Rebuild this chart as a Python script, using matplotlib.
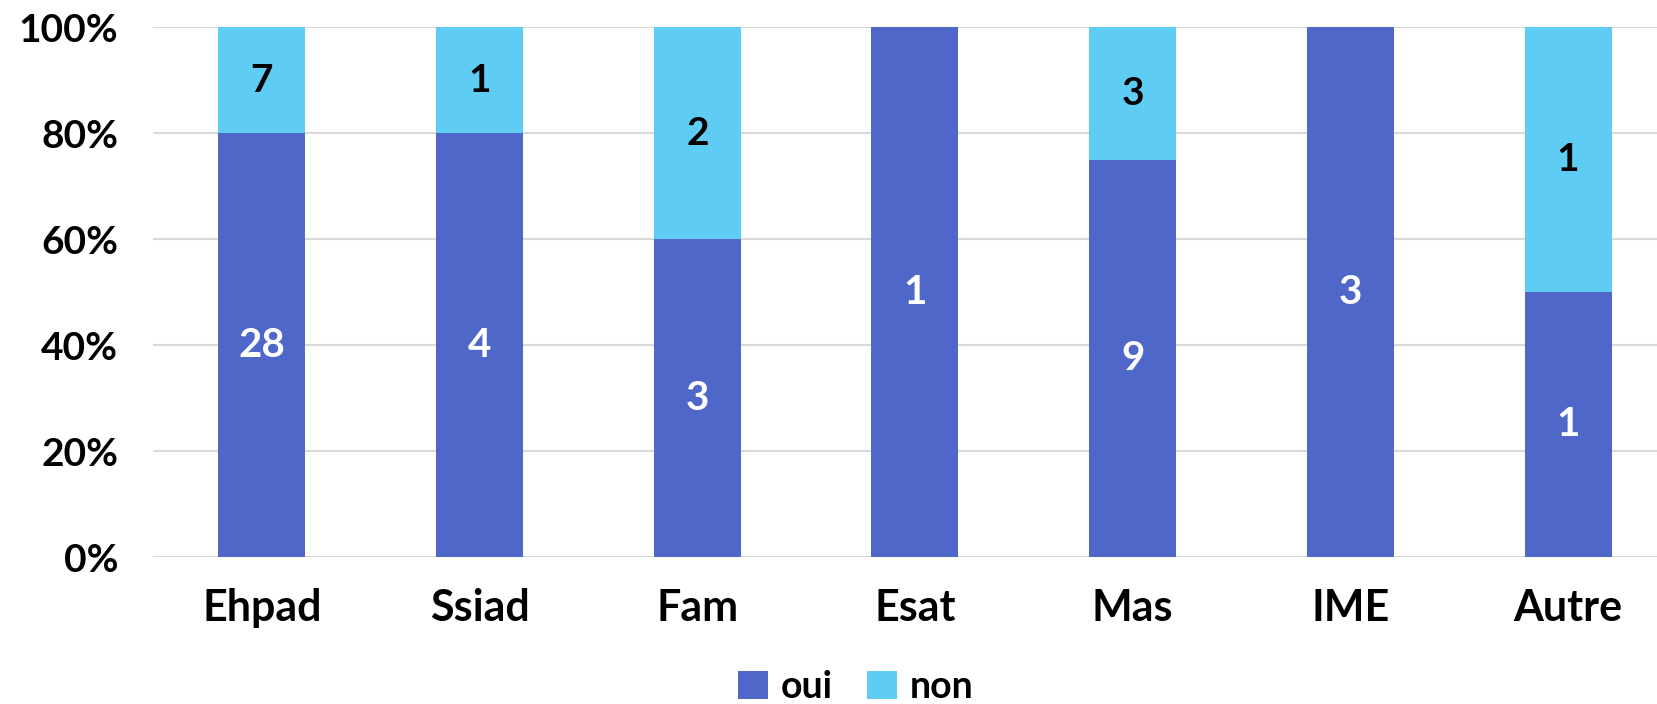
import matplotlib.pyplot as plt
import numpy as np

categories = ['Ehpad', 'Ssiad', 'Fam', 'Esat', 'Mas', 'IME', 'Autre']
oui = [28, 4, 3, 1, 9, 3, 1]
non = [7, 1, 2, 0, 3, 0, 1]

c_oui = '#4F67C8'
c_non = '#5ECCF3'

plt.rcParams['font.family'] = ['Lato', 'DejaVu Sans']
plt.rcParams['font.weight'] = 'bold'

fig = plt.figure(figsize=(16.57, 7.04), dpi=100)
ax = fig.add_axes([153 / 1657, 0.2088, 1 - 153 / 1657, 0.9616 - 0.2088])

x = np.arange(len(categories))
oui_a = np.array(oui, dtype=float)
non_a = np.array(non, dtype=float)
tot = oui_a + non_a
p_oui = oui_a / tot * 100
p_non = non_a / tot * 100

b1 = ax.bar(x, p_oui, width=0.4, color=c_oui, label='oui', zorder=2)
b2 = ax.bar(x, p_non, width=0.4, bottom=p_oui, color=c_non, label='non', zorder=2)

# labels inside bars
for i in range(len(categories)):
    if oui[i] > 0:
        ax.text(x[i], p_oui[i] / 2, str(oui[i]), ha='center', va='center',
                color='white', fontsize=29, fontweight='bold')
    if non[i] > 0:
        ax.text(x[i], p_oui[i] + p_non[i] / 2, str(non[i]), ha='center', va='center',
                color='black', fontsize=28, fontweight='bold')

ax.set_xlim(-0.5, -0.5 + (1657 - 153) / 217.7)
ax.set_ylim(0, 100)
ax.set_yticks([0, 20, 40, 60, 80, 100])
ax.set_yticklabels(['{}%'.format(v) for v in [0, 20, 40, 60, 80, 100]], fontsize=28, fontweight='bold')
ax.set_xticks(x)
ax.set_xticklabels(categories, fontsize=31, fontweight='bold')
ax.tick_params(axis='both', length=0)
ax.tick_params(axis='y', pad=25)
ax.tick_params(axis='x', pad=22)
ax.grid(axis='y', color='#D9D9D9', linewidth=1.5, zorder=0)
for s in ax.spines.values():
    s.set_visible(False)

fig.legend(handles=[b1, b2], labels=['oui', 'non'], loc='center', bbox_to_anchor=(856 / 1657, 1 - 687 / 704),
           ncol=2, frameon=False, handlelength=0.8, handleheight=0.8,
           handletextpad=0.35, columnspacing=0.9, prop={'weight': 'bold', 'size': 27})

fig.savefig('out.png', dpi=100)
